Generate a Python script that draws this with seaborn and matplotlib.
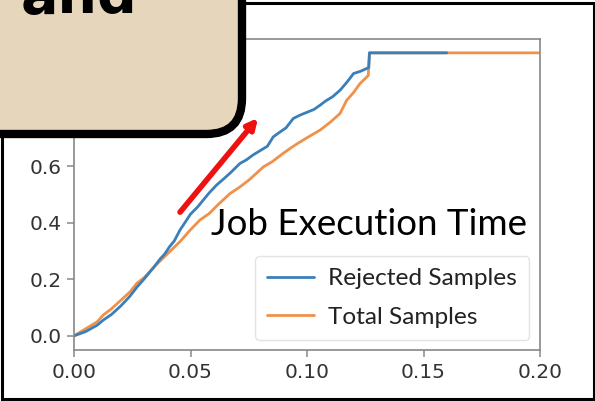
import matplotlib
matplotlib.use("Agg")
import matplotlib.pyplot as plt
from matplotlib.patches import FancyBboxPatch, Rectangle
import seaborn as sns
import pandas as pd

rej_x = [0.000, 0.005, 0.010, 0.0126, 0.016, 0.020, 0.024, 0.027, 0.030, 0.034, 0.037, 0.039,
         0.041, 0.043, 0.0455, 0.048, 0.050, 0.053, 0.0555, 0.058, 0.0612, 0.064, 0.067, 0.0712,
         0.074, 0.077, 0.080, 0.083, 0.0855, 0.088, 0.091, 0.0941, 0.097, 0.100, 0.103, 0.1056,
         0.108, 0.111, 0.1142, 0.117, 0.120, 0.123, 0.1265, 0.1268, 0.160]
rej_y = [0.000, 0.015, 0.038, 0.056, 0.075, 0.105, 0.140, 0.172, 0.200, 0.240, 0.272, 0.290,
         0.315, 0.335, 0.374, 0.405, 0.430, 0.455, 0.480, 0.505, 0.533, 0.553, 0.575, 0.609,
         0.622, 0.640, 0.655, 0.670, 0.703, 0.718, 0.735, 0.768, 0.780, 0.790, 0.800, 0.815,
         0.830, 0.845, 0.868, 0.895, 0.927, 0.935, 0.948, 1.000, 1.000]
tot_x = [0.000, 0.005, 0.010, 0.0126, 0.016, 0.020, 0.024, 0.027, 0.030, 0.034, 0.037, 0.041,
         0.0455, 0.050, 0.054, 0.058, 0.062, 0.067, 0.071, 0.075, 0.0813, 0.085, 0.089, 0.0927,
         0.096, 0.100, 0.1056, 0.110, 0.1142, 0.117, 0.120, 0.1227, 0.1263, 0.1268, 0.200]
tot_y = [0.000, 0.025, 0.050, 0.074, 0.095, 0.125, 0.155, 0.186, 0.205, 0.240, 0.265, 0.297,
         0.333, 0.375, 0.409, 0.432, 0.465, 0.503, 0.525, 0.550, 0.597, 0.615, 0.640, 0.662,
         0.680, 0.700, 0.727, 0.755, 0.786, 0.832, 0.860, 0.891, 0.920, 1.000, 1.000]
series_names = ["Rejected Samples", "Total Samples"]
x_ticks = [0.00, 0.05, 0.10, 0.15, 0.20]
y_ticks = [0.0, 0.2, 0.4, 0.6, 0.8, 1.0]
title_text = "Job Execution Time"
overlay_text = "and"

df = pd.concat([
    pd.DataFrame({"x": rej_x, "y": rej_y, "series": series_names[0]}),
    pd.DataFrame({"x": tot_x, "y": tot_y, "series": series_names[1]}),
])

sns.set_theme(style="white")
W, H = 595, 401
fig = plt.figure(figsize=(W / 100, H / 100), dpi=100)
fig.patch.set_facecolor("white")
ax = fig.add_axes([74 / W, 1 - 350 / H, (540 - 74) / W, (350 - 38.7) / H])

palette = {series_names[0]: "#3a7fb8", series_names[1]: "#f0914a"}
# draw orange first so blue lies on top
for name in [series_names[1], series_names[0]]:
    sub = df[df["series"] == name]
    sns.lineplot(data=sub, x="x", y="y", ax=ax, color=palette[name], lw=2.0,
                 estimator=None, sort=False, label=name, legend=False)

ax.set_xlim(0, 0.2)
ax.set_ylim(-0.05, 1.05)
ax.set_xticks(x_ticks)
ax.set_xticklabels([f"{v:.2f}" for v in x_ticks])
ax.set_yticks(y_ticks)
ax.set_yticklabels([f"{v:.1f}" for v in y_ticks])
ax.set_xlabel("")
ax.set_ylabel("")
for s in ax.spines.values():
    s.set_color("#888888")
    s.set_linewidth(1.2)
ax.tick_params(axis="both", which="both", direction="out", length=5, width=1.1,
               color="#888888", labelcolor="#333333", labelsize=14.5, bottom=True, left=True, pad=4)

ax.text(0.1266, 0.356, title_text, fontsize=26.5, family="Lato", color="black",
        ha="center", va="baseline")

handles, labels = ax.get_legend_handles_labels()
order = [labels.index(series_names[0]), labels.index(series_names[1])]
leg = ax.legend([handles[i] for i in order], [labels[i] for i in order],
                loc="upper left", bbox_to_anchor=(255 / W, 1 - 256 / H),
                bbox_transform=fig.transFigure, frameon=True, borderaxespad=0,
                prop={"family": "Lato", "size": 17.6}, handlelength=1.9,
                borderpad=0.5, labelspacing=0.7, handletextpad=0.6)
leg.get_frame().set_edgecolor("#dddddd")
leg.get_frame().set_linewidth(1.0)
for t in leg.get_texts():
    t.set_color("#222222")

ax.annotate("", xy=(0.079, 0.77), xytext=(0.0455, 0.437),
            arrowprops=dict(arrowstyle="-|>", color="#ee1111", lw=4,
                            mutation_scale=15, shrinkA=0, shrinkB=0))

# outer slide frame
fig.add_artist(Rectangle((1.5 / W, 1 - 399 / H), 592 / W, 396 / H, transform=fig.transFigure,
                         facecolor="none", edgecolor="black", lw=2.2, zorder=5))
# beige overlay box
fig.add_artist(FancyBboxPatch((-60 / W, 1 - 134 / H), 302 / W, 200 / H,
                              boxstyle="round,pad=0,rounding_size=0.06",
                              transform=fig.transFigure, facecolor="#e6d7bc",
                              edgecolor="black", lw=6, zorder=10, mutation_aspect=W / H))
fig.text(21 / W, 1 - 13 / H, overlay_text, fontsize=40, fontweight="bold",
         family="DejaVu Sans", color="black", ha="left", va="baseline", zorder=11)

fig.savefig("out.png", dpi=100)
